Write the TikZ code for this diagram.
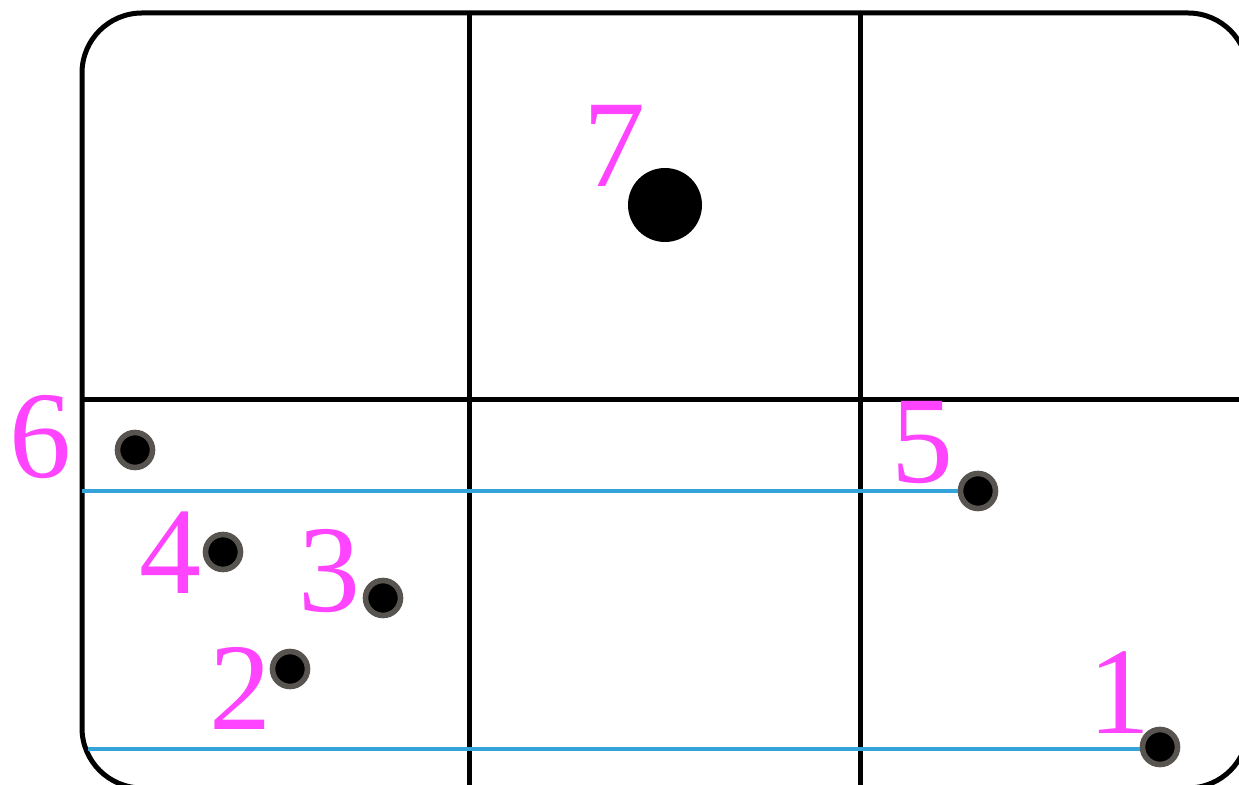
\documentclass[tikz,border=0pt]{standalone}
\usepackage{fontspec}
\setmainfont{Liberation Serif}
\usetikzlibrary{positioning}

\definecolor{labelpink}{RGB}{255,68,255}
\definecolor{linkblue}{RGB}{52,163,217}
\definecolor{rimgray}{RGB}{88,84,80}

\begin{document}
\begin{tikzpicture}[
        x=0.5pt, y=-0.5pt,
        frame/.style={draw, line width=2.5pt},
        pt/.style={
          circle,
          fill=black,
          draw=rimgray,
          line width=2.8pt,
          minimum size=17.5pt,
          inner sep=0pt
        },
        bigpt/.style={circle, fill=black, minimum size=37pt, inner sep=0pt},
        num/.style={
          text=labelpink,
          inner sep=0pt,
          font=\rmfamily\fontsize{62}{62}\selectfont
        },
        link/.style={draw=linkblue, line width=2.2pt}
      ]
      \useasboundingbox (0,0) rectangle (1239,785);
      \clip (0,0) rectangle (1239,785);

      % Frame and grid
      \draw[frame, rounded corners=30pt] (82,13) rectangle (1248,788);
      \draw[frame] (469,13) -- (469,788);
      \draw[frame] (860,13) -- (860,788);
      \draw[frame] (82,400) -- (1248,400);

      % Points
      \node[pt] (p1) at (1160,747) {};
      \node[pt] (p2) at (290,669) {};
      \node[pt] (p3) at (383,598) {};
      \node[pt] (p4) at (223,552) {};
      \node[pt] (p5) at (978,491) {};
      \node[pt] (p6) at (135,450) {};
      \node[bigpt] (p7) at (665,205) {};

      % Labels
      \node[num] (n1) at (1119,693) {1};
      \node[num] (n2) at (240,688) {2};
      \node[num] (n3) at (329,571) {3};
      \node[num] (n4) at (170,553) {4};
      \node[num] (n5) at (922,443) {5};
      \node[num] (n6) at (41,437) {6};
      \node[num] (n7) at (614,146) {7};

      % Horizontal links
      \coordinate (l5) at (82,491);
      \coordinate (l1) at (88,749);
      \draw[link] (l5) -- (p5);
      \draw[link] (l1) -- (l1 -| p1.west);
\end{tikzpicture}
\end{document}
